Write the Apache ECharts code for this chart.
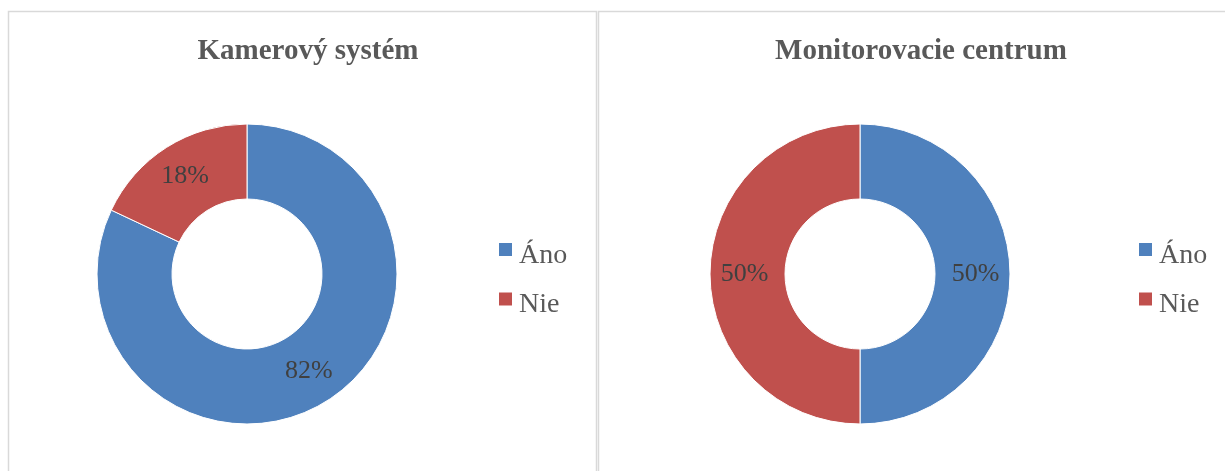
<!DOCTYPE html>
<html>
<head>
<meta charset="utf-8">
<script src="https://cdn.jsdelivr.net/npm/echarts@6/dist/echarts.min.js"></script>
<style>
    html, body { margin: 0; padding: 0; background: #fff; }
    #main { width: 1225px; height: 471px; }
</style>
</head>
<body>
<div id="main"></div>
<script>
const categories = ['Áno', 'Nie']
const kameroveValues = [82, 18]
const centrumValues = [50, 50]
const titles = ['Kamerový systém', 'Monitorovacie centrum']
const colors = ['#4F81BD', '#C0504D']

const serif = '"Liberation Serif", "Times New Roman", serif'

function toData(values) {
    return categories.map((name, i) => {
        return { name: name, value: values[i] }
    })
}

function pieSeries(values, center) {
    return {
        type: 'pie',
        radius: [75, 150],
        center: center,
        startAngle: 90,
        clockwise: true,
        silent: true,
        itemStyle: {
            borderColor: '#fff',
            borderWidth: 1
        },
        label: {
            show: true,
            position: 'inside',
            formatter: '{c}%',
            fontFamily: serif,
            fontSize: 26,
            color: '#404040'
        },
        labelLine: { show: false },
        emphasis: { disabled: true },
        data: toData(values)
    }
}

function legend(left) {
    return {
        orient: 'vertical',
        left: left,
        top: 241,
        padding: 0,
        itemWidth: 15,
        itemHeight: 15,
        itemGap: 21,
        icon: 'rect',
        selectedMode: false,
        data: categories,
        formatter: '{a|{name}}',
        textStyle: {
            rich: {
                a: {
                    fontFamily: serif,
                    fontSize: 28,
                    color: '#595959',
                    padding: [12, 0, 0, 1]
                }
            }
        }
    }
}

const myChart = echarts.init(document.getElementById('main'))

const option = {
    color: colors,
    animation: false,
    title: [
        {
            text: titles[0],
            left: 303,
            top: 32,
            textAlign: 'center',
            textStyle: { fontFamily: serif, fontSize: 29, fontWeight: 'bold', color: '#595959' }
        },
        {
            text: titles[1],
            left: 916,
            top: 32,
            textAlign: 'center',
            textStyle: { fontFamily: serif, fontSize: 29, fontWeight: 'bold', color: '#595959' }
        }
    ],
    legend: [legend(497), legend(1137)],
    graphic: [
        {
            type: 'rect',
            shape: { x: 8.5, y: 11.5, width: 588, height: 480 },
            style: { fill: 'none', stroke: '#d9d9d9', lineWidth: 1.5 }
        },
        {
            type: 'rect',
            shape: { x: 598.5, y: 11.5, width: 640, height: 480 },
            style: { fill: 'none', stroke: '#d9d9d9', lineWidth: 1.5 }
        }
    ],
    series: [
        pieSeries(kameroveValues, [247, 274]),
        pieSeries(centrumValues, [860, 274])
    ]
}

myChart.setOption(option)
</script>
</body>
</html>
